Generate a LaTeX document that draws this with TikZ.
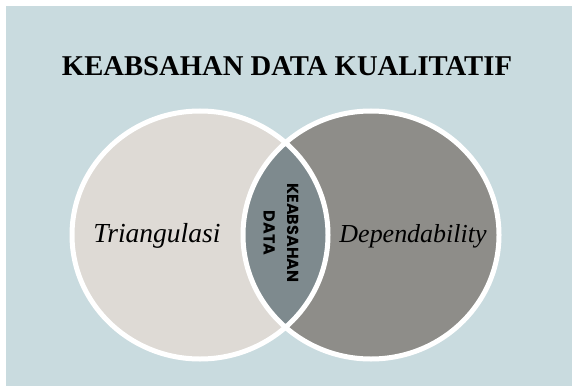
\documentclass[tikz,border=0pt]{standalone}
\usepackage{fontspec}
\usepackage{graphicx}
\setmainfont{Liberation Serif}
\newfontfamily\lensfont{Poppins}
\definecolor{bgblue}{RGB}{201,219,223}
\definecolor{leftfill}{RGB}{222,218,213}
\definecolor{rightfill}{RGB}{142,141,137}
\definecolor{lensfill}{RGB}{126,138,142}
\begin{document}
\begin{tikzpicture}[x=1pt,y=-1pt,
  titletext/.style={inner sep=0pt, anchor=base, font=\bfseries},
  circlabel/.style={inner sep=0pt, anchor=base, font=\itshape},
  lenslabel/.style={inner sep=0pt, rotate=-90, align=center, font=\lensfont\bfseries\fontsize{16}{23.5}\selectfont},
  ring/.style={draw=white, line width=5pt},
  venn/.style={x radius=128pt, y radius=124pt}]
\useasboundingbox (0,0) rectangle (572,385);
\fill[white] (-5,-5) rectangle (580,395);
\fill[bgblue] (6,6) rectangle (580,395);
\coordinate (lc) at (200,235);
\coordinate (rc) at (371,235);
\fill[leftfill] (lc) ellipse [venn];
\fill[rightfill] (rc) ellipse [venn];
\begin{scope}
  \clip (lc) ellipse [venn];
  \fill[lensfill] (rc) ellipse [venn];
\end{scope}
\draw[ring] (lc) ellipse [venn];
\draw[ring] (rc) ellipse [venn];
\node[titletext] (title) at (287,75) {\resizebox{450pt}{!}{KEABSAHAN DATA KUALITATIF}};
\node[circlabel] (tri) at (157,242) {\resizebox{127pt}{!}{Triangulasi}};
\node[circlabel] (dep) at (413,242) {\resizebox{147pt}{!}{Dependability}};
\node[lenslabel] (lens) at (281,233) {KEABSAHAN\\DATA};
\end{tikzpicture}
\end{document}
